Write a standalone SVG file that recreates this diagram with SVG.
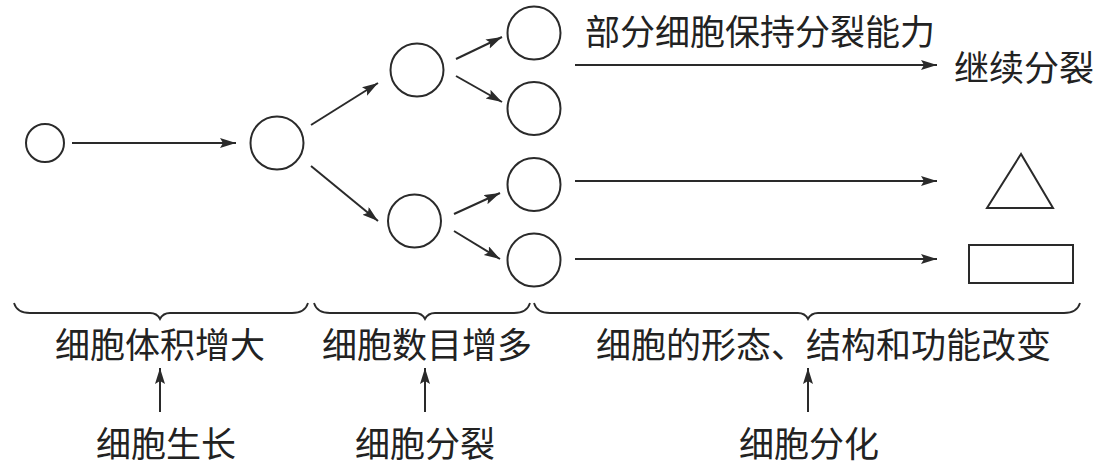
<svg xmlns="http://www.w3.org/2000/svg" width="1093" height="471" viewBox="0 0 1093 471">
<style>
.c{fill:none;stroke:#2a2a2a;stroke-width:2}
.l{fill:none;stroke:#2a2a2a;stroke-width:2;marker-end:url(#ah)}
.b{fill:none;stroke:#2a2a2a;stroke-width:1.8}
.t{font-family:"Noto Sans CJK SC","Noto Sans",sans-serif;font-size:35px;fill:#222}
</style>
<defs>
<marker id="ah" markerUnits="userSpaceOnUse" markerWidth="18" markerHeight="12" refX="16" refY="5" orient="auto">
<path d="M0,0 L16,5 L0,10 L3,5 Z" fill="#2a2a2a"/>
</marker>
</defs>
<rect width="1093" height="471" fill="#fff"/>
<g id="connectors">
<line class="l" x1="72" y1="143" x2="236" y2="143"/>
<line class="l" x1="311" y1="125" x2="378" y2="83"/>
<line class="l" x1="311" y1="166" x2="378" y2="221"/>
<line class="l" x1="456" y1="59" x2="502" y2="37"/>
<line class="l" x1="456" y1="76" x2="502" y2="102"/>
<line class="l" x1="454" y1="214" x2="500" y2="193"/>
<line class="l" x1="454" y1="231" x2="500" y2="259"/>
<line class="l" x1="575" y1="65" x2="937" y2="65"/>
<line class="l" x1="575" y1="181" x2="937" y2="181"/>
<line class="l" x1="575" y1="259" x2="937" y2="259"/>
<line class="l" x1="160" y1="412" x2="160" y2="368"/>
<line class="l" x1="425" y1="412" x2="425" y2="368"/>
<line class="l" x1="808" y1="412" x2="808" y2="368"/>
</g>
<g id="braces">
<path class="b" d="M14,303 Q17,313 30,313 L150,313 Q157,313 160,319 Q163,313 170,313 L292,313 Q305,313 308,303"/>
<path class="b" d="M314,303 Q317,313 330,313 L415,313 Q422,313 425,319 Q428,313 435,313 L514,313 Q527,313 530,303"/>
<path class="b" d="M534,303 Q537,313 550,313 L798,313 Q805,313 808,319 Q811,313 818,313 L1064,313 Q1077,313 1080,303"/>
</g>
<g id="cell0"><circle class="c" cx="45" cy="143" r="19"/></g>
<g id="cell1"><circle class="c" cx="277" cy="143" r="26.5"/></g>
<g id="cell2a"><circle class="c" cx="417" cy="70" r="26.5"/></g>
<g id="cell2b"><circle class="c" cx="414.5" cy="221" r="26.5"/></g>
<g id="cell3a"><circle class="c" cx="534" cy="33" r="26.5"/></g>
<g id="cell3b"><circle class="c" cx="534" cy="108.5" r="26.5"/></g>
<g id="cell3c"><circle class="c" cx="534" cy="184.5" r="26.5"/></g>
<g id="cell3d"><circle class="c" cx="534" cy="260" r="26.5"/></g>
<g id="triangle"><polygon class="c" points="1021,154 987,208 1053,208"/></g>
<g id="rectangle"><rect class="c" x="969" y="245" width="104" height="38"/></g>
<g id="labels">
<text class="t" x="585" y="45">部分细胞保持分裂能力</text>
<text class="t" x="954" y="81">继续分裂</text>
<text class="t" x="55" y="358">细胞体积增大</text>
<text class="t" x="322" y="358">细胞数目增多</text>
<text class="t" x="596" y="358">细胞的形态、结构和功能改变</text>
<text class="t" x="96" y="457">细胞生长</text>
<text class="t" x="355" y="457">细胞分裂</text>
<text class="t" x="739" y="457">细胞分化</text>
</g>
</svg>
